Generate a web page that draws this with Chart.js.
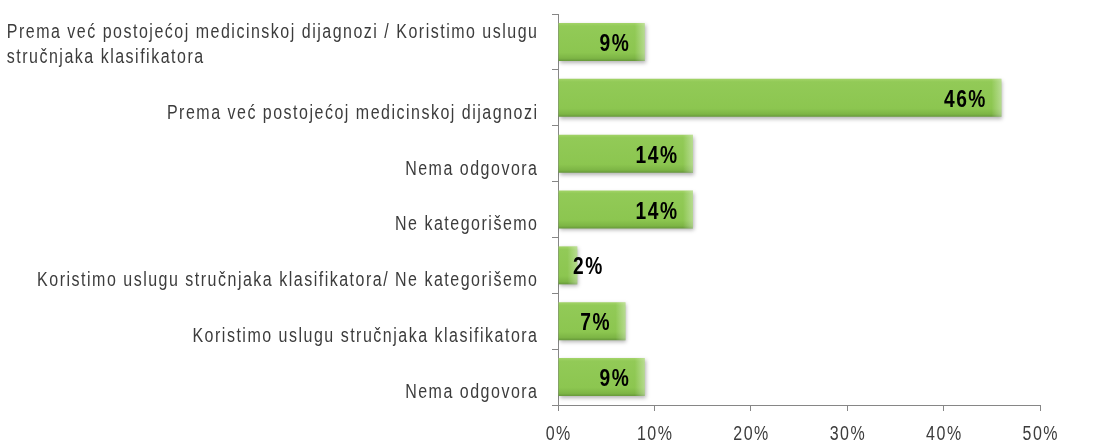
<!DOCTYPE html>
<html>
<head>
<meta charset="utf-8">
<script src="https://cdn.jsdelivr.net/npm/chart.js@4.4.0/dist/chart.umd.min.js"></script>
<style>
  html, body { margin: 0; padding: 0; background: #fff; }
</style>
</head>
<body>
<canvas id="chart" width="1107" height="443"></canvas>
<script>
// Categories (top to bottom) and their shares in %
const categories = [
    ['Prema već postojećoj medicinskoj dijagnozi / Koristimo uslugu', 'stručnjaka klasifikatora'],
    'Prema već postojećoj medicinskoj dijagnozi',
    'Nema odgovora',
    'Ne kategorišemo',
    'Koristimo uslugu stručnjaka klasifikatora/ Ne kategorišemo',
    'Koristimo uslugu stručnjaka klasifikatora',
    'Nema odgovora'
];
const shares = [9, 46, 14, 14, 2, 7, 9];
const xTicks = [0, 10, 20, 30, 40, 50];

const FONT = '"Liberation Sans", Arial, sans-serif';
const SX = 0.8;          // horizontal squeeze of the text
const SPACING = 1.5;     // extra px between letters
const BAR_PCT = 0.68;

// draw text squeezed horizontally, aligned on x
function drawText(ctx, text, x, y, align) {
    const ls = SPACING / SX;
    ctx.letterSpacing = ls + 'px';
    const w = (ctx.measureText(text).width - ls) * SX;
    let left = x;
    if (align === 'right') left = x - w;
    if (align === 'center') left = x - w / 2;
    ctx.save();
    ctx.translate(left, y);
    ctx.scale(SX, 1);
    ctx.textAlign = 'left';
    ctx.fillText(text, 0, 0);
    ctx.restore();
    return w;
}

function textWidth(ctx, text) {
    const ls = SPACING / SX;
    ctx.letterSpacing = ls + 'px';
    return (ctx.measureText(text).width - ls) * SX;
}

// green bar with a light top edge and darker bottom edge
function barFill(c) {
    const chart = c.chart;
    const scale = chart.scales && chart.scales.y;
    if (!chart.chartArea || !scale) return '#8cc650';
    const y = scale.getPixelForValue(c.dataIndex);
    const h = scale.height / categories.length * BAR_PCT;
    const g = chart.ctx.createLinearGradient(0, y - h / 2, 0, y + h / 2);
    g.addColorStop(0, '#a3d468');
    g.addColorStop(0.08, '#92ca57');
    g.addColorStop(0.78, '#8cc650');
    g.addColorStop(0.93, '#7db545');
    g.addColorStop(1, '#66983a');
    return g;
}

// drop shadow under bars, faded right end and value labels
const barExtras = {
    id: 'barExtras',
    beforeDatasetsDraw(chart) {
        const ctx = chart.ctx;
        ctx.save();
        ctx.shadowColor = 'rgba(0,0,0,0.3)';
        ctx.shadowBlur = 4;
        ctx.shadowOffsetX = 1;
        ctx.shadowOffsetY = 2;
    },
    afterDatasetsDraw(chart) {
        const ctx = chart.ctx;
        ctx.restore();
        const bars = chart.getDatasetMeta(0).data;
        ctx.save();
        bars.forEach(bar => {
            const top = bar.y - bar.height / 2;
            const fw = Math.min(10, bar.x - bar.base);
            const g = ctx.createLinearGradient(bar.x - fw, 0, bar.x, 0);
            g.addColorStop(0, 'rgba(255,255,255,0)');
            g.addColorStop(1, 'rgba(255,255,255,0.35)');
            ctx.fillStyle = g;
            ctx.fillRect(bar.x - fw, top, fw, bar.height);
        });

        ctx.font = 'bold 24px ' + FONT;
        ctx.fillStyle = '#000';
        ctx.textBaseline = 'alphabetic';
        bars.forEach((bar, i) => {
            const txt = shares[i] + '%';
            const w = textWidth(ctx, txt);
            const x = Math.max(bar.x - 16, chart.chartArea.left + 15 + w);
            drawText(ctx, txt, x, bar.y + 9, 'right');
        });
        ctx.restore();
    }
};

// axis texts: category labels sit on the lower edge of their band,
// x tick labels close to the bottom of the picture like the original
const axisLabels = {
    id: 'axisLabels',
    afterDraw(chart) {
        const ctx = chart.ctx;
        const ys = chart.scales.y;
        const xs = chart.scales.x;
        const band = ys.height / categories.length;
        ctx.save();
        ctx.font = '20px ' + FONT;
        ctx.fillStyle = '#3c3c3c';
        ctx.textBaseline = 'alphabetic';
        const right = ys.right - 21;
        const lineH = 25;
        categories.forEach((label, i) => {
            const lines = Array.isArray(label) ? label : [label];
            const w = Math.max(...lines.map(l => textWidth(ctx, l)));
            const base = ys.getPixelForTick(i) + band / 2 - 7;
            lines.forEach((l, j) => {
                drawText(ctx, l, right - w, base - (lines.length - 1 - j) * lineH, 'left');
            });
        });
        xTicks.forEach(v => {
            drawText(ctx, v + '%', xs.getPixelForValue(v), xs.top + 35, 'center');
        });
        ctx.restore();
    }
};

new Chart(document.getElementById('chart'), {
    type: 'bar',
    data: {
        labels: categories,
        datasets: [{
            data: shares,
            backgroundColor: barFill,
            borderWidth: 0,
            categoryPercentage: 1,
            barPercentage: BAR_PCT
        }]
    },
    options: {
        indexAxis: 'y',
        responsive: false,
        animation: false,
        devicePixelRatio: 1,
        layout: { padding: { top: 14, right: 67, left: 0, bottom: 0 } },
        plugins: {
            legend: { display: false },
            tooltip: { enabled: false }
        },
        scales: {
            x: {
                type: 'linear',
                min: 0,
                max: 50,
                afterBuildTicks: s => { s.ticks = xTicks.map(v => ({ value: v })); },
                ticks: { display: false },
                grid: { drawOnChartArea: false, drawTicks: true, tickLength: 6, color: '#868686' },
                border: { color: '#868686' },
                afterFit: s => { s.height = 38; }
            },
            y: {
                ticks: { display: false },
                grid: { drawOnChartArea: false, drawTicks: true, tickLength: 6, color: '#868686', offset: true },
                border: { color: '#868686' },
                afterFit: s => { s.width = 558; }
            }
        }
    },
    plugins: [barExtras, axisLabels]
});
</script>
</body>
</html>
